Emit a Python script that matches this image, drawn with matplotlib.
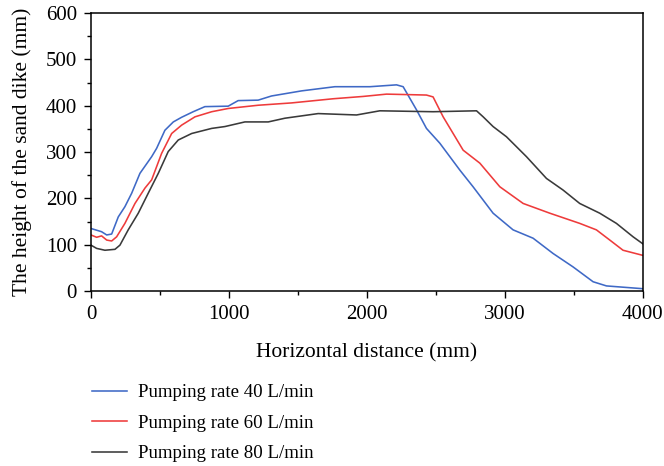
import numpy as np
import matplotlib
matplotlib.use('Agg')
import matplotlib.pyplot as plt
from matplotlib.ticker import MultipleLocator

#DATA===================================================================
# -- pumping rate 40 L/min
x40 = [0, 77, 114, 150, 198, 246, 295, 355, 440, 476, 536, 597, 657, 741,
       826, 995, 1067, 1212, 1309, 1527, 1768, 2022, 2215, 2263, 2360, 2432,
       2529, 2674, 2770, 2915, 3060, 3205, 3350, 3495, 3640, 3737, 4000]
y40 = [135, 128, 121, 123, 160, 182, 211, 254, 290, 308, 347, 365, 375, 387,
       398, 399, 411, 412, 421, 432, 441, 441, 445, 441, 391, 351,
       319, 261, 225, 168, 132, 114, 81, 52, 20, 11, 5]

# -- pumping rate 60 L/min
x60 = [0, 41, 77, 114, 150, 186, 246, 319, 391, 440, 512, 585, 657, 754,
       875, 995, 1212, 1454, 1756, 1973, 2143, 2432, 2480, 2553, 2698, 2819,
       2964, 3133, 3326, 3543, 3664, 3761, 3857, 4000]
y60 = [121, 116, 119, 110, 108, 117, 146, 189, 222, 240, 297, 340, 358, 376,
       387, 394, 401, 406, 415, 420, 425, 423, 419, 376, 304, 276,
       225, 189, 168, 146, 132, 110, 88, 77]

# -- pumping rate 80 L/min
x80 = [0, 41, 101, 174, 210, 270, 343, 415, 488, 560, 633, 730, 875, 971,
       1116, 1285, 1406, 1647, 1925, 2094, 2480, 2795, 2843, 2915, 3012, 3157,
       3302, 3422, 3543, 3688, 3809, 3930, 4000]
y80 = [99, 92, 88, 90, 99, 132, 168, 211, 254, 301, 326, 340, 351, 355,
       365, 365, 373, 383, 380, 389, 387, 389, 376, 355, 333, 290,
       243, 218, 189, 168, 146, 117, 102]

labels = ['Pumping rate 40 L/min', 'Pumping rate 60 L/min', 'Pumping rate 80 L/min']
colors = ['#3f69c6', '#ee3b3b', '#3a3a3a']

#PLOT===================================================================
plt.rcParams['font.family'] = ['Liberation Serif', 'DejaVu Serif']
plt.rcParams['font.size'] = 15

fig = plt.figure(figsize=(6.64, 4.66), dpi=100)
ax = fig.add_axes([0.137, 0.3755, 0.831, 0.5965])

handles = []
for xs, ys, c, lb in zip([x40, x60, x80], [y40, y60, y80], colors, labels):
    h, = ax.plot(xs, ys, '-', color=c, lw=1.15, label=lb,
                 solid_joinstyle='round')
    handles.append(h)

ax.set_xlim(0, 4000)
ax.set_ylim(0, 600)
ax.xaxis.set_major_locator(MultipleLocator(1000))
ax.xaxis.set_minor_locator(MultipleLocator(500))
ax.yaxis.set_major_locator(MultipleLocator(100))
ax.yaxis.set_minor_locator(MultipleLocator(50))
ax.tick_params(which='both', direction='out', top=False, right=False, width=1.0,
               labelsize=15)
ax.tick_params(which='major', length=5, pad=5)
ax.tick_params(which='minor', length=3)
for sp in ax.spines.values():
    sp.set_linewidth(1.1)

ax.set_xlabel('Horizontal distance (mm)', fontsize=15.5, labelpad=14)
ax.set_ylabel('The height of the sand dike (mm)', fontsize=15.5, labelpad=10)

fig.legend(handles=handles, loc='upper left', bbox_to_anchor=(0.127, 0.192),
           frameon=False, handlelength=1.85, handletextpad=0.6,
           labelspacing=0.7, borderaxespad=0., fontsize=13.6)

plt.savefig('out.png', dpi=100)
